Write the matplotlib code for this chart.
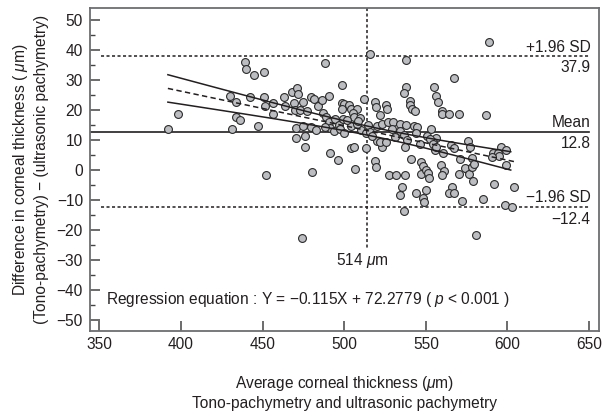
import matplotlib
matplotlib.use("Agg")
import matplotlib.pyplot as plt
import numpy as np

plt.rcParams['font.family'] = ['Liberation Sans', 'DejaVu Sans']
plt.rcParams['mathtext.fontset'] = 'custom'
plt.rcParams['mathtext.rm'] = 'Liberation Sans'
plt.rcParams['mathtext.it'] = 'Liberation Sans:italic'

# average corneal thickness (um)
avg_thickness = [
    392, 398, 439, 440, 445, 451, 430, 434, 434, 436, 431, 447, 442, 451, 451.5,
    456.6, 456.6, 452, 463, 468, 471, 472, 464, 469, 475, 479.5, 481.5, 484,
    486.6, 490.6, 488.3, 498.4, 470, 473, 477.5, 470.7, 475, 479.5, 483, 470.6,
    476, 476, 480, 491.3, 496, 487.2, 488.8, 490.5, 494.3, 491, 493.7, 496.6,
    499.4, 498.4, 500, 498.6, 503.1, 504.3, 508, 505.1, 505.9, 509.6, 504.1,
    497.4, 504, 506, 513.3, 506.6, 488, 500, 510, 508, 514.3, 513.3, 512.1,
    515.7, 518.7, 519.4, 525.5, 526.5, 522, 520, 523, 527, 530, 534, 538, 529,
    534, 536.5, 542.7, 544.7, 544, 553, 551, 556, 554.3, 538.4, 537.5, 524.2,
    523, 520, 518.6, 519.6, 527.5, 531.7, 537.3, 540.8, 547.3, 548.3, 546.8,
    550, 551.2, 551.8, 559.4, 561.2, 559.8, 565.5, 567.1, 571, 575.3, 573.7,
    570.5, 576.4, 578.9, 578.3, 578.5, 579.3, 591.8, 604.2, 596.3, 598.8,
    591.2, 594.4, 594.8, 590.7, 599, 535.2, 534, 543.7, 548.4, 550, 549,
    536.5, 565.8, 564.4, 567.4, 572, 584.8, 598.3, 602.9, 581, 474, 538,
    588.7, 567.3, 538, 536.7, 554.7, 556, 557.3, 540.2, 540.6, 541.4, 543.1,
    560.1, 560.1, 564.2, 570.3, 586.6, 546.3, 552.4, 554.5, 555.5, 556.5,
    560.6, 575.9, 576.9, 521.8, 525.5, 508.6, 501.5, 516, 531, 517,
]
# difference tono-pachymetry minus ultrasonic pachymetry (um)
thickness_diff = [
    13.7, 18.6, 35.9, 33.7, 31.6, 32.8, 24.7, 22.7, 17.8, 16.7, 13.8, 14.8, 24.5,
    24.3, 21.3, 22.5, 18.6, -1.6, 24.5, 26.0, 27.2, 25.3, 21.3, 22.5, 22.7, 24.4,
    23.6, 21.5, 23.3, 24.6, 35.8, 28.5, 19.9, 19.9, 19.6, 13.9, 14.6, 14.3, 13.5,
    10.7, 11.4, 7.7, -0.6, 5.6, 3.4, 19.1, 17.8, 16.0, 17.1, 13.9, 13.1, 15.0,
    16.9, 22.2, 21.9, 20.5, 21.6, 20.5, 20.5, 19.1, 17.8, 17.3, 14.6, 13.6, 7.5,
    7.7, 7.5, 0.5, 14.5, 12.5, 13.5, 15.5, 15.1, 12.2, 23.8, 38.7, 22.8, 20.9,
    21.6, 20.2, 18.5, 14.6, 15.2, 15.9, 16.1, 15.5, 15.0, 13.8, 13.0, 11.7, 14.8,
    14.4, 12.5, 13.6, 11.2, 10.7, 9.5, 10.0, 7.6, 9.4, 7.6, 9.6, 3.0, 0.9, -1.5,
    -1.5, -1.5, 3.8, 2.7, 1.4, -1.2, -0.1, -0.9, -2.5, 1.7, -0.4, -1.7, 8.5, 7.4,
    3.6, 0.5, 0.8, -1.4, -1.3, -3.5, 3.9, 1.0, 1.9, -4.6, -5.5, 7.7, 6.6, 5.8,
    5.8, 4.6, 4.4, 1.7, -5.5, -8.3, -7.5, -9.4, -6.5, -10.6, -13.5, -5.6, -7.5,
    -7.5, -10.4, -9.5, -11.5, -12.4, -21.5, -22.5, 36.7, 42.6, 30.6, 27.8, 25.8,
    27.6, 24.8, 22.8, 23.0, 21.6, 20.2, 19.7, 19.7, 18.6, 18.6, 18.6, 18.4, 8.8,
    10.3, 8.6, 6.6, 7.7, 5.8, 9.7, 7.7, 9.2, 9.2, 16.2, 16.6, 12.8, 11.0, 11.5,
]

# published statistics
slope = -0.115
intercept = 72.2779
mean_diff = 12.8
upper_loa = 37.9
lower_loa = -12.4
mean_thickness = 514

ink = '#231f20'

x = np.array(avg_thickness)
y = np.array(thickness_diff)

fig = plt.figure(figsize=(6.03, 4.16), dpi=100)
ax = fig.add_axes([0.149, 0.2055, 0.845, 0.7745])

# limits of agreement and mean
ax.plot([351, 650], [upper_loa, upper_loa], color=ink, lw=1.1, linestyle=(0, (2, 1.6)))
ax.plot([351, 650], [lower_loa, lower_loa], color=ink, lw=1.1, linestyle=(0, (2, 1.6)))
ax.plot([345, 650], [mean_diff, mean_diff], color=ink, lw=1.2)
ax.plot([mean_thickness, mean_thickness], [54, -26], color=ink, lw=1.1, linestyle=(0, (2, 1.6)))

ax.scatter(x, y, s=32, facecolor='#bcbdc0', edgecolor='#2b2b2b', linewidth=0.8, zorder=3)

# regression line with 95% confidence band
xx = np.linspace(392, 602, 100)
fit = slope * xx + intercept
resid = y - (slope * x + intercept)
n = len(x)
s = np.sqrt(np.sum(resid ** 2) / (n - 2))
sxx = np.sum((x - x.mean()) ** 2)
half = 1.97 * s * np.sqrt(1 / n + (xx - x.mean()) ** 2 / sxx)
ax.plot(xx, fit + half, color=ink, lw=1.1, zorder=4)
ax.plot(xx, fit - half, color=ink, lw=1.1, zorder=4)
xr = np.array([392, 605])
ax.plot(xr, slope * xr + intercept, color=ink, lw=1.1, linestyle=(0, (3.5, 2.2)), zorder=4)

fs = 11.2
ax.text(651, upper_loa + 2.8, '+1.96 SD', ha='right', va='center', fontsize=fs, color=ink)
ax.text(651, upper_loa - 3.7, '%.1f' % upper_loa, ha='right', va='center', fontsize=fs, color=ink)
ax.text(651, mean_diff + 2.9, 'Mean', ha='right', va='center', fontsize=fs, color=ink)
ax.text(651, mean_diff - 4.0, '%.1f' % mean_diff, ha='right', va='center', fontsize=fs, color=ink)
ax.text(651, lower_loa + 3.4, '\u22121.96 SD', ha='right', va='center', fontsize=fs, color=ink)
ax.text(651, lower_loa - 4.1, '\u2212%.1f' % abs(lower_loa), ha='right', va='center', fontsize=fs, color=ink)
ax.text(511, -30.2, '%d $\\mu$m' % mean_thickness, ha='center', va='center', fontsize=fs, color=ink)
ax.text(354, -43.2, 'Regression equation : Y = \u22120.115X + 72.2779 ( $p$ < 0.001 )',
        ha='left', va='center', fontsize=fs, color=ink)

ax.set_xlim(344.2, 656.3)
ax.set_ylim(-53.5, 53.9)
ax.set_xticks(np.arange(350, 651, 50))
ax.set_yticks(np.arange(-50, 51, 10))
ax.set_yticklabels([str(v).replace('-', '\u2212') for v in range(-50, 51, 10)])
ax.set_yticks(np.arange(-50, 51, 5), minor=True)
ax.tick_params(direction='in', length=7, width=1.1, color='#444444', labelsize=fs,
               labelcolor=ink, pad=5)
ax.tick_params(axis='y', which='minor', direction='in', length=3.5, width=1.0, color='#444444')
for sp in ax.spines.values():
    sp.set_color('#6d6e71')
    sp.set_linewidth(1.3)

fig.text(0.034, 0.593, 'Difference in corneal thickness ( $\\mu$m)', rotation=90,
         ha='center', va='center', fontsize=fs, color=ink)
fig.text(0.069, 0.593, '(Tono-pachymetry) \u2212 (ultrasonic pachymetry)', rotation=90,
         ha='center', va='center', fontsize=fs, color=ink)
fig.text(0.5716, 0.079, 'Average corneal thickness ($\\mu$m)', ha='center', va='center',
         fontsize=fs, color=ink)
fig.text(0.5716, 0.031, 'Tono-pachymetry and ultrasonic pachymetry', ha='center', va='center',
         fontsize=fs, color=ink)

fig.savefig('out.png', dpi=100)
